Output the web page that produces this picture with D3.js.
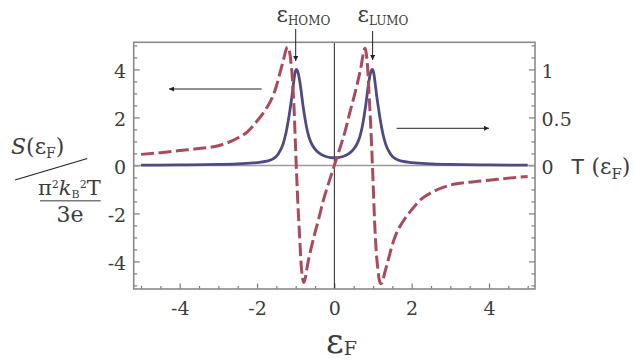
<!DOCTYPE html>
<html>
<head>
<meta charset="utf-8">
<script src="https://cdn.jsdelivr.net/npm/d3@7"></script>
<style>
  html, body { margin: 0; padding: 0; background: #fff; }
  svg { display: block; }
</style>
</head>
<body>
<svg id="chart" width="634" height="360"></svg>
<script>
// Thermopower S(εF) (left axis, dashed) and transmission T(εF) (right axis, solid)
const sE = [-5, -4.5, -4, -3.5, -3, -2.5, -2.25, -2, -1.75, -1.6, -1.5, -1.4, -1.3, -1.25, -1.21, -1.17, -1.12, -1.08, -1.04, -1.0,
            -0.97, -0.94, -0.9, -0.86, -0.82, -0.79, -0.75, -0.7, -0.6, -0.5, -0.4, -0.3, -0.2, -0.1, 0,
            0.1, 0.2, 0.3, 0.4, 0.5, 0.6, 0.7, 0.75, 0.79, 0.82, 0.86, 0.9, 0.94, 0.97, 1.0, 1.04, 1.08, 1.12, 1.17, 1.21,
            1.25, 1.3, 1.4, 1.5, 1.6, 1.75, 2, 2.25, 2.5, 3, 3.5, 4, 4.5, 5];
const sVal = [0.46, 0.53, 0.62, 0.70, 0.82, 1.14, 1.40, 1.85, 2.4, 2.85, 3.3, 3.9, 4.5, 4.82, 4.93, 4.82, 4.25, 3.5, 2.3, 0.6,
              -0.6, -1.7, -2.9, -4.1, -4.72, -4.88, -4.68, -4.2, -3.45, -2.8, -2.2, -1.55, -1.0, -0.5, 0,
              0.5, 1.0, 1.55, 2.2, 2.8, 3.45, 4.2, 4.68, 4.88, 4.72, 4.1, 2.9, 1.7, 0.6, -0.6, -2.3, -3.5, -4.25, -4.82, -4.93,
              -4.82, -4.5, -3.9, -3.3, -2.85, -2.4, -1.85, -1.4, -1.14, -0.82, -0.70, -0.62, -0.53, -0.46];

const tE = [-5, -4, -3, -2.5, -2, -1.75, -1.6, -1.45, -1.32, -1.25, -1.19, -1.14, -1.1, -1.06, -1.02, -0.98, -0.94, -0.9,
            -0.86, -0.82, -0.78, -0.72, -0.66, -0.6, -0.5, -0.4, -0.3, -0.2, -0.1, 0,
            0.1, 0.2, 0.3, 0.4, 0.5, 0.6, 0.66, 0.72, 0.78, 0.82, 0.86, 0.9, 0.94, 0.98, 1.02, 1.06, 1.1, 1.14, 1.19,
            1.25, 1.32, 1.45, 1.6, 1.75, 2, 2.5, 3, 4, 5];
const tVal = [0.003, 0.005, 0.01, 0.017, 0.03, 0.045, 0.065, 0.12, 0.23, 0.34, 0.47, 0.6, 0.71, 0.84, 0.96, 1.0, 0.97, 0.89,
              0.78, 0.65, 0.54, 0.4, 0.3, 0.235, 0.17, 0.13, 0.105, 0.09, 0.082, 0.08,
              0.082, 0.09, 0.105, 0.13, 0.17, 0.235, 0.3, 0.4, 0.54, 0.65, 0.78, 0.89, 0.97, 1.0, 0.96, 0.84, 0.71, 0.6, 0.47,
              0.34, 0.23, 0.12, 0.065, 0.045, 0.03, 0.017, 0.01, 0.005, 0.003];

const xTicks = [-4, -2, 0, 2, 4];
const sTicks = [-4, -2, 0, 2, 4];
const tTicks = [0, 0.5, 1];

const SERIF = "'DejaVu Serif', 'Liberation Serif', serif";
const svg = d3.select("#chart");
const L = 133.7, R = 535, T = 42.3, B = 289;

const x = d3.scaleLinear().domain([-5.19, 5.19]).range([L, R]);
const yS = d3.scaleLinear().domain([-5.15, 5.13]).range([B, T]);
const yT = d3.scaleLinear().domain([-5.15 / 4, 5.13 / 4]).range([B, T]);

const defs = svg.append("defs");
defs.append("clipPath").attr("id", "plot-clip")
  .append("rect").attr("x", L).attr("y", T).attr("width", R - L).attr("height", B - T);

const tickColor = "#7a7a7a";
const range = (a, b, s) => d3.range(Math.round((b - a) / s) + 1).map(i => +(a + i * s).toFixed(4));

// minor ticks (no labels)
function minor(axis, vals, len) {
  return axis.tickValues(vals).tickSizeInner(-len).tickSizeOuter(0).tickFormat("");
}
const xMinor = range(-5, 5, 0.5).filter(v => !xTicks.includes(v));
const sMinor = range(-5, 5, 0.5).filter(v => !sTicks.includes(v));
const tMinor = range(-1.25, 1.25, 0.125).filter(v => Math.abs(v % 0.5) > 1e-6);
const tMajorUnl = [-1, -0.5];

svg.append("g").attr("transform", `translate(0,${B})`).call(minor(d3.axisBottom(x), xMinor, 3));
svg.append("g").attr("transform", `translate(0,${B})`)
  .call(d3.axisBottom(x).tickValues(xTicks).tickSizeInner(-5.5).tickSizeOuter(0).tickPadding(12.5)
    .tickFormat(d => d < 0 ? "-" + Math.abs(d) : String(d)));

svg.append("g").attr("transform", `translate(${L},0)`).call(minor(d3.axisLeft(yS), sMinor, 3.5));
const gyM = svg.append("g").attr("transform", `translate(${L},0)`)
  .call(d3.axisLeft(yS).tickValues(sTicks).tickSizeInner(-6).tickSizeOuter(0).tickPadding(7.5)
    .tickFormat(d => d < 0 ? "-" + Math.abs(d) : String(d)));

svg.append("g").attr("transform", `translate(${R},0)`).call(minor(d3.axisRight(yT), tMinor, 3.5));
svg.append("g").attr("transform", `translate(${R},0)`).call(minor(d3.axisRight(yT), tMajorUnl, 6));
const grM = svg.append("g").attr("transform", `translate(${R},0)`)
  .call(d3.axisRight(yT).tickValues(tTicks).tickSizeInner(-6).tickSizeOuter(0).tickPadding(6.5)
    .tickFormat(d => String(d)));

svg.selectAll(".domain").remove();
svg.selectAll("g").attr("font-family", SERIF).attr("font-size", 20);
svg.selectAll(".tick line").attr("stroke", tickColor).attr("stroke-width", 1.2);
svg.selectAll(".tick text").attr("font-family", SERIF).attr("font-size", 19).attr("fill", "#3c3c3c");
gyM.selectAll(".tick text").attr("dy", "0.42em");
grM.selectAll(".tick text").attr("dy", "0.42em");

// zero line and εF = 0 line
svg.append("line").attr("x1", L).attr("x2", R).attr("y1", yS(0)).attr("y2", yS(0))
  .attr("stroke", "#9a9a9a").attr("stroke-width", 1.5);
svg.append("line").attr("x1", x(0)).attr("x2", x(0)).attr("y1", T).attr("y2", B)
  .attr("stroke", "#222").attr("stroke-width", 1);

const plot = svg.append("g").attr("clip-path", "url(#plot-clip)");

const tData = tE.map((e, i) => [e, tVal[i]]);
const sData = sE.map((e, i) => [e, sVal[i]]);

plot.append("path").datum(tData)
  .attr("fill", "none").attr("stroke", "#4f4a82").attr("stroke-width", 2.8)
  .attr("stroke-linejoin", "round")
  .attr("d", d3.line().x(d => x(d[0])).y(d => yT(d[1])).curve(d3.curveMonotoneX));

plot.append("path").datum(sData)
  .attr("fill", "none").attr("stroke", "#a84c5d").attr("stroke-width", 3)
  .attr("stroke-dasharray", "13,4.5")
  .attr("d", d3.line().x(d => x(d[0])).y(d => yS(d[1])).curve(d3.curveMonotoneX));

// frame
svg.append("rect").attr("x", L).attr("y", T).attr("width", R - L).attr("height", B - T)
  .attr("fill", "none").attr("stroke", "#8a8a8a").attr("stroke-width", 1.6);

// arrows
defs.append("marker").attr("id", "ah").attr("viewBox", "0 0 10 10").attr("refX", 10).attr("refY", 5)
  .attr("markerWidth", 7).attr("markerHeight", 5).attr("markerUnits", "userSpaceOnUse").attr("orient", "auto")
  .append("path").attr("d", "M0,0 L10,5 L0,10 Z").attr("fill", "#222");

function arrow(x1, y1, x2, y2) {
  svg.append("line").attr("x1", x1).attr("y1", y1).attr("x2", x2).attr("y2", y2)
    .attr("stroke", "#222").attr("stroke-width", 1).attr("marker-end", "url(#ah)");
}
arrow(261.7, 89, 169, 89);
arrow(396.7, 128.3, 489, 128.3);
arrow(x(-1.0), 29, x(-1.0), 61);
arrow(x(0.99), 31, x(0.99), 60);

function txt(xp, yp, size) {
  return svg.append("text").attr("x", xp).attr("y", yp)
    .attr("font-family", SERIF).attr("font-size", size).attr("fill", "#3c3c3c");
}

// level labels
function levelLabel(xPos, sub) {
  const t = txt(xPos, 21.7, 22);
  t.append("tspan").text("ε");
  t.append("tspan").attr("dy", 3).attr("font-size", 12).text(sub);
}
levelLabel(276.5, "HOMO");
levelLabel(357.5, "LUMO");

// right axis title
const rt = txt(571, 174, 22);
rt.append("tspan").attr("font-family", "'Liberation Sans', Arial, sans-serif").attr("font-size", 22).text("T");
rt.append("tspan").text(" (ε");
rt.append("tspan").attr("dy", 5).attr("font-size", 15).text("F");
rt.append("tspan").attr("dy", -5).text(")");

// x axis title
const xt = txt(326, 353, 34);
xt.append("tspan").text("ε");
xt.append("tspan").attr("dy", 2).attr("font-size", 19).text("F");

// left axis title: S(εF) / (π²kB²T / 3e)
const lt = txt(11, 154, 22);
lt.append("tspan").attr("font-style", "italic").text("S");
lt.append("tspan").text("(ε");
lt.append("tspan").attr("dy", 4).attr("font-size", 14).text("F");
lt.append("tspan").attr("dy", -4).text(")");

svg.append("line").attr("x1", 15).attr("y1", 180).attr("x2", 87.3).attr("y2", 158.5)
  .attr("stroke", "#222").attr("stroke-width", 1.2);

const num = txt(38, 195, 21);
num.append("tspan").text("π");
num.append("tspan").attr("dy", -7).attr("font-size", 11).text("2");
num.append("tspan").attr("dy", 7).attr("font-style", "italic").text("k");
num.append("tspan").attr("dy", 3).attr("font-size", 11).text("B");
num.append("tspan").attr("dy", -10).attr("font-size", 11).text("2");
num.append("tspan").attr("dy", 7).text("T");

svg.append("line").attr("x1", 40).attr("y1", 200.7).attr("x2", 100.7).attr("y2", 200.7)
  .attr("stroke", "#7a7a7a").attr("stroke-width", 1.5);

txt(70, 221.7, 22).attr("text-anchor", "middle").text("3e");
</script>
</body>
</html>
